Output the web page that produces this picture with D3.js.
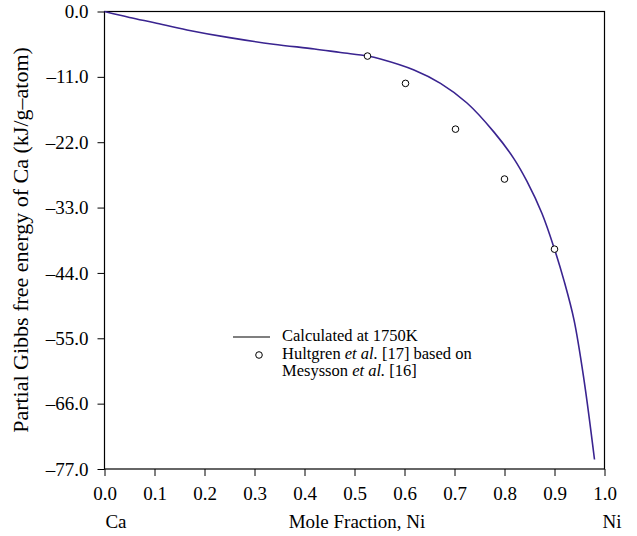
<!DOCTYPE html>
<html><head><meta charset="utf-8">
<script src="https://cdn.jsdelivr.net/npm/d3@7"></script>
<style>body{margin:0;background:#fff}svg{display:block}svg text{font-family:"Liberation Serif","Times New Roman","DejaVu Serif",serif !important;fill:#000}</style>
</head><body>
<svg id="c" width="637" height="536"></svg>
<script>
const curveX = [0, 0.05, 0.1, 0.165, 0.25, 0.338, 0.42, 0.472, 0.526, 0.552, 0.619, 0.672, 0.725, 0.779, 0.819, 0.845, 0.875, 0.9, 0.919, 0.939, 0.959, 0.98];
const curveY = [0, -1.0, -1.9, -3.1, -4.4, -5.5, -6.3, -6.9, -7.5, -8.0, -9.85, -12.1, -15.4, -20.3, -24.8, -28.6, -34.0, -40.0, -45.3, -51.9, -62.0, -75.4];
const expX = [0.526, 0.602, 0.702, 0.80, 0.90];
const expY = [-7.5, -12.1, -19.8, -28.2, -40.0];
const xTicks = [0,0.1,0.2,0.3,0.4,0.5,0.6,0.7,0.8,0.9,1.0];
const yTicks = [0,-11,-22,-33,-44,-55,-66,-77];

const FONT = '"Liberation Serif","Times New Roman","DejaVu Serif",serif';
const svg = d3.select("#c");
const L=104.5, R=604.5, T=11.5, B=469;
const x = d3.scaleLinear().domain([0,1]).range([L,R]);
const y = d3.scaleLinear().domain([0,-77]).range([T,B]);
const fsTick = 19, fsLeg = 16.5, fsTitle = 22;

const fmtY = v => (v<0?"\u2013":"") + Math.abs(v).toFixed(1);

const gx = svg.append("g").attr("transform",`translate(0,${B})`)
  .call(d3.axisBottom(x).tickValues(xTicks).tickFormat(d3.format(".1f")).tickSize(7).tickSizeOuter(0).tickPadding(11));
const gy = svg.append("g").attr("transform",`translate(${L},0)`)
  .call(d3.axisLeft(y).tickValues(yTicks).tickFormat(fmtY).tickSize(7).tickSizeOuter(0).tickPadding(9));
[gx,gy].forEach(g=>{
  g.attr("font-family",FONT).attr("font-size",fsTick);
  g.selectAll("text").attr("font-family",FONT).attr("font-size",fsTick).attr("fill","#000");
  g.selectAll("line").attr("stroke","#000");
  g.select(".domain").remove();
});
// frame
svg.append("rect").attr("x",L).attr("y",T).attr("width",R-L).attr("height",B-T)
  .attr("fill","none").attr("stroke","#000").attr("stroke-width",1.2);

// curve
const pts = curveX.map((v,i)=>[v,curveY[i]]);
svg.append("path").datum(pts)
  .attr("d", d3.line().x(d=>x(d[0])).y(d=>y(d[1])).curve(d3.curveCatmullRom.alpha(0.5)))
  .attr("fill","none").attr("stroke","#3a2490").attr("stroke-width",1.6);

// experimental points
svg.selectAll("circle.e").data(expX.map((v,i)=>[v,expY[i]])).enter().append("circle")
  .attr("cx",d=>x(d[0])).attr("cy",d=>y(d[1])).attr("r",3.3)
  .attr("fill","#fff").attr("stroke","#000").attr("stroke-width",1);

function txt(xp,yp,s,fs,anchor){
  return svg.append("text").attr("x",xp).attr("y",yp).attr("text-anchor",anchor||"start")
    .attr("font-family",FONT).attr("font-size",fs).text(s);
}
// axis titles
txt(116,528,"Ca",fsTick,"middle");
txt(357,528,"Mole Fraction, Ni",fsTick,"middle");
txt(612,528,"Ni",fsTick,"middle");
svg.append("text").attr("transform","translate(28,240) rotate(-90)").attr("text-anchor","middle")
  .attr("font-family",FONT).attr("font-size",fsTitle).text("Partial Gibbs free energy of Ca (kJ/g\u2013atom)");

// legend
svg.append("line").attr("x1",233).attr("x2",270).attr("y1",337).attr("y2",337).attr("stroke","#000").attr("stroke-width",1.2);
txt(282,341,"Calculated at 1750K",fsLeg);
svg.append("circle").attr("cx",259).attr("cy",355).attr("r",3.3).attr("fill","#fff").attr("stroke","#000");
const t2 = txt(282,358.5,"",fsLeg);
t2.append("tspan").text("Hultgren ");
t2.append("tspan").attr("font-style","italic").text("et al.");
t2.append("tspan").text(" [17] based on");
const t3 = txt(282,376,"",fsLeg);
t3.append("tspan").text("Mesysson ");
t3.append("tspan").attr("font-style","italic").text("et al.");
t3.append("tspan").text(" [16]");
</script>
</body></html>
